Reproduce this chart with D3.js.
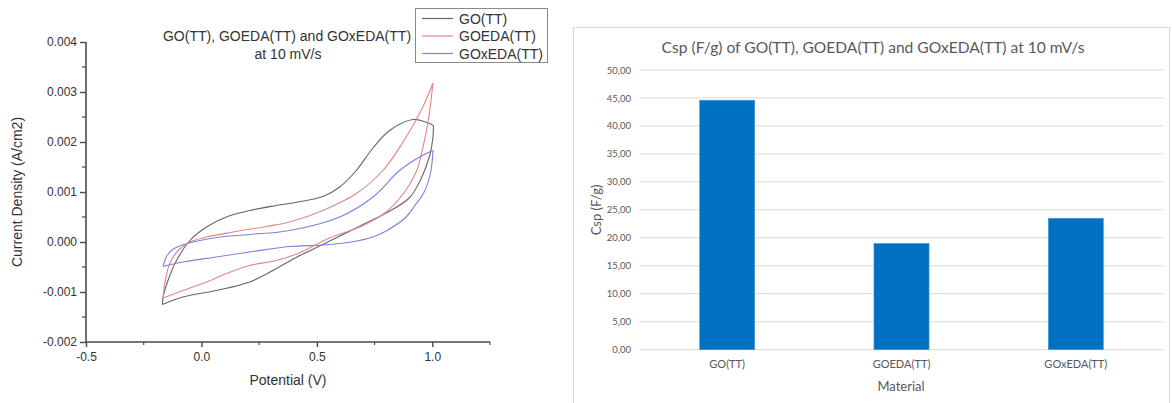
<!DOCTYPE html>
<html>
<head>
<meta charset="utf-8">
<script src="https://cdn.jsdelivr.net/npm/d3@7"></script>
<style>
  html, body { margin: 0; padding: 0; background: #fff; }
  svg { display: block; }
</style>
</head>
<body>
<svg id="chart" width="1172" height="403"></svg>
<script>
// ---- Cyclic voltammetry loops at 10 mV/s: [potential (V), current density (A/cm2)]
const seriesNames = ["GO(TT)", "GOEDA(TT)", "GOxEDA(TT)"];
const seriesColors = ["#666666", "#e38585", "#7f7fe0"];

const goForward = [[-0.169,-0.00125],[-0.166,-0.00110],[-0.145,-0.00077],[-0.108,-0.00037],[-0.05,0.00003],[0.022,0.00030],[0.108,0.00050],[0.209,0.00063],[0.325,0.00073],[0.418,0.00080],[0.526,0.00091],[0.599,0.00110],[0.671,0.00143],[0.743,0.00188],[0.815,0.00223],[0.916,0.00245],[0.97,0.00240],[1.005,0.00233]];
const goReverse = [[1.005,0.00233],[1.003,0.00210],[0.99,0.00175],[0.95,0.00125],[0.90,0.00088],[0.80,0.00058],[0.70,0.00035],[0.60,0.00012],[0.526,-0.00005],[0.418,-0.00029],[0.325,-0.00053],[0.209,-0.00080],[0.065,-0.00097],[-0.08,-0.00110],[-0.169,-0.00125]];

const goedaForward = [[-0.166,-0.00112],[-0.159,-0.00083],[-0.137,-0.00043],[-0.101,-0.00017],[-0.05,0.0],[0.022,0.00010],[0.137,0.00020],[0.281,0.00031],[0.382,0.00040],[0.526,0.00063],[0.671,0.00097],[0.786,0.00143],[0.887,0.00210],[0.959,0.00270],[1.003,0.00318]];
const goedaReverse = [[1.003,0.00318],[0.985,0.00250],[0.96,0.00190],[0.93,0.00140],[0.88,0.00100],[0.80,0.00060],[0.70,0.00033],[0.555,0.00008],[0.418,-0.00023],[0.325,-0.00037],[0.209,-0.00047],[0.108,-0.00063],[0.022,-0.00080],[-0.08,-0.00097],[-0.166,-0.00112]];

const goxedaForward = [[-0.166,-0.00049],[-0.150,-0.00028],[-0.125,-0.00015],[-0.094,-0.00008],[-0.036,0.0],[0.065,0.00009],[0.209,0.00015],[0.382,0.00023],[0.599,0.00050],[0.743,0.00090],[0.858,0.00143],[0.945,0.00170],[1.003,0.00183]];
const goxedaReverse = [[1.003,0.00183],[0.993,0.00140],[0.965,0.00100],[0.923,0.00072],[0.887,0.00050],[0.80,0.00022],[0.743,0.00010],[0.65,0.00000],[0.526,-0.00006],[0.382,-0.00009],[0.209,-0.00020],[0.065,-0.00030],[-0.08,-0.00040],[-0.166,-0.00049]];

const cvTicksX = [-0.5, 0.0, 0.5, 1.0];
const cvMinorX = [-0.25, 0.25, 0.75, 1.25];
const cvTicksY = [-0.002, -0.001, 0.000, 0.001, 0.002, 0.003, 0.004];
const cvMinorY = [-0.0015, -0.0005, 0.0005, 0.0015, 0.0025, 0.0035];

// ---- Specific capacitance bars
const materials = ["GO(TT)", "GOEDA(TT)", "GOxEDA(TT)"];
const cspValues = [44.6, 19.0, 23.5];
const cspTicks = [0, 5, 10, 15, 20, 25, 30, 35, 40, 45, 50];

const svg = d3.select("#chart");
const hyphenMinus = f => d => f(d).replace("\u2212", "-");

// ================= Left panel: CV curves =================
const cvFont = "'Liberation Sans', Arial, sans-serif";
const cvText = "#333";
const x = d3.scaleLinear().domain([-0.5, 1.25]).range([86, 490]);
const y = d3.scaleLinear().domain([-0.002, 0.004]).range([342, 42]);

const left = svg.append("g").attr("font-family", cvFont);

const yAxis = d3.axisLeft(y).tickValues(cvTicksY).tickFormat(hyphenMinus(d3.format(".3f"))).tickSize(6).tickPadding(3);
const yG = left.append("g").attr("transform", `translate(${x.range()[0]},0)`).call(yAxis);
const xAxis = d3.axisBottom(x).tickValues(cvTicksX).tickFormat(hyphenMinus(d3.format(".1f"))).tickSize(5).tickPadding(5);
const xG = left.append("g").attr("transform", `translate(0,${y.range()[0]})`).call(xAxis);

[yG, xG].forEach(g => {
  g.select(".domain").attr("stroke", "#4a4a4a").attr("stroke-width", 1.6);
  g.selectAll(".tick line").attr("stroke", "#4a4a4a").attr("stroke-width", 1.4);
  g.selectAll(".tick text").attr("fill", cvText).attr("font-size", 12).attr("font-family", cvFont);
});
yG.select(".domain").attr("d", `M0,${y.range()[0]}V${y.range()[1]}`);
xG.select(".domain").attr("d", `M${x.range()[0]},0H${x.range()[1]}`);

yG.selectAll(".minor").data(cvMinorY).join("line").attr("class", "minor")
  .attr("x1", -4).attr("x2", 0).attr("y1", d => y(d)).attr("y2", d => y(d))
  .attr("stroke", "#4a4a4a").attr("stroke-width", 1.2);
xG.selectAll(".minor").data(cvMinorX).join("line").attr("class", "minor")
  .attr("y1", 0).attr("y2", 3).attr("x1", d => x(d)).attr("x2", d => x(d))
  .attr("stroke", "#4a4a4a").attr("stroke-width", 1.2);

const cvLine = d3.line().x(d => x(d[0])).y(d => y(d[1])).curve(d3.curveCatmullRom.alpha(0.5));
const loops = [
  { color: seriesColors[0], branches: [goForward, goReverse] },
  { color: seriesColors[1], branches: [goedaForward, goedaReverse] },
  { color: seriesColors[2], branches: [goxedaForward, goxedaReverse] }
];
loops.forEach(l => {
  l.branches.forEach(b => {
    left.append("path").attr("d", cvLine(b)).attr("fill", "none")
      .attr("stroke", l.color).attr("stroke-width", 1.1).attr("stroke-linejoin", "round");
  });
});

// Titles
left.append("text").attr("x", 287).attr("y", 41).attr("text-anchor", "middle")
  .attr("font-size", 14).attr("fill", cvText).text("GO(TT), GOEDA(TT) and GOxEDA(TT)");
left.append("text").attr("x", 288).attr("y", 59).attr("text-anchor", "middle")
  .attr("font-size", 14).attr("fill", cvText).text("at 10 mV/s");
left.append("text").attr("x", 288).attr("y", 385).attr("text-anchor", "middle")
  .attr("font-size", 14).attr("fill", cvText).text("Potential (V)");
left.append("text").attr("transform", `translate(22,192) rotate(-90)`).attr("text-anchor", "middle")
  .attr("font-size", 14).attr("fill", cvText).text("Current Density (A/cm2)");

// Legend
const lg = left.append("g");
lg.append("rect").attr("x", 415.5).attr("y", 8.5).attr("width", 132).attr("height", 54)
  .attr("fill", "#fff").attr("stroke", "#8a8a8a").attr("stroke-width", 1);
seriesNames.forEach((n, i) => {
  const cy = 18.5 + i * 17.5;
  lg.append("line").attr("x1", 422).attr("x2", 453).attr("y1", cy).attr("y2", cy)
    .attr("stroke", seriesColors[i]).attr("stroke-width", 1.2);
  lg.append("text").attr("x", 459).attr("y", cy + 5).attr("font-size", 14)
    .attr("fill", cvText).text(n);
});

// ================= Right panel: Csp bars =================
const barFont = "Lato, 'Open Sans', sans-serif";
const barText = "#595959";
const right = svg.append("g").attr("font-family", barFont);

right.append("rect").attr("x", 573.5).attr("y", 27.5).attr("width", 596).attr("height", 390)
  .attr("fill", "#fff").attr("stroke", "#d9d9d9").attr("stroke-width", 1);

const xb = d3.scaleBand().domain(materials).range([640, 1163]).paddingInner(0.684).paddingOuter(0.342);
const yb = d3.scaleLinear().domain([0, 50]).range([349.7, 70]);

right.append("g").selectAll("line").data(cspTicks).join("line")
  .attr("x1", 640).attr("x2", 1163).attr("y1", d => yb(d)).attr("y2", d => yb(d))
  .attr("stroke", "#d9d9d9").attr("stroke-width", 1);

const ybAxis = d3.axisLeft(yb).tickValues(cspTicks).tickSize(0).tickPadding(9)
  .tickFormat(d => d3.format(".2f")(d).replace(".", ","));
const ybG = right.append("g").attr("transform", "translate(640,0)").call(ybAxis);
ybG.select(".domain").remove();
ybG.selectAll(".tick text").attr("fill", barText).attr("font-size", 9.5).attr("font-family", barFont);

right.append("g").selectAll("rect").data(materials).join("rect")
  .attr("x", d => xb(d)).attr("width", xb.bandwidth())
  .attr("y", (d, i) => yb(cspValues[i])).attr("height", (d, i) => yb(0) - yb(cspValues[i]))
  .attr("fill", "#0070c0").attr("stroke", "#4f9ad6").attr("stroke-width", 0.6);

const xbAxis = d3.axisBottom(xb).tickSize(0).tickPadding(11);
const xbG = right.append("g").attr("transform", `translate(0,${yb(0)})`).call(xbAxis);
xbG.select(".domain").remove();
xbG.selectAll(".tick text").attr("fill", barText).attr("font-size", 11).attr("font-family", barFont);

right.append("text").attr("x", 873).attr("y", 53).attr("text-anchor", "middle")
  .attr("font-size", 15.6).attr("fill", barText).text("Csp (F/g) of GO(TT), GOEDA(TT) and GOxEDA(TT) at 10 mV/s");
right.append("text").attr("x", 901).attr("y", 391).attr("text-anchor", "middle")
  .attr("font-size", 13).attr("fill", barText).text("Material");
right.append("text").attr("transform", "translate(601,210) rotate(-90)").attr("text-anchor", "middle")
  .attr("font-size", 13).attr("fill", barText).text("Csp (F/g)");
</script>
</body>
</html>
